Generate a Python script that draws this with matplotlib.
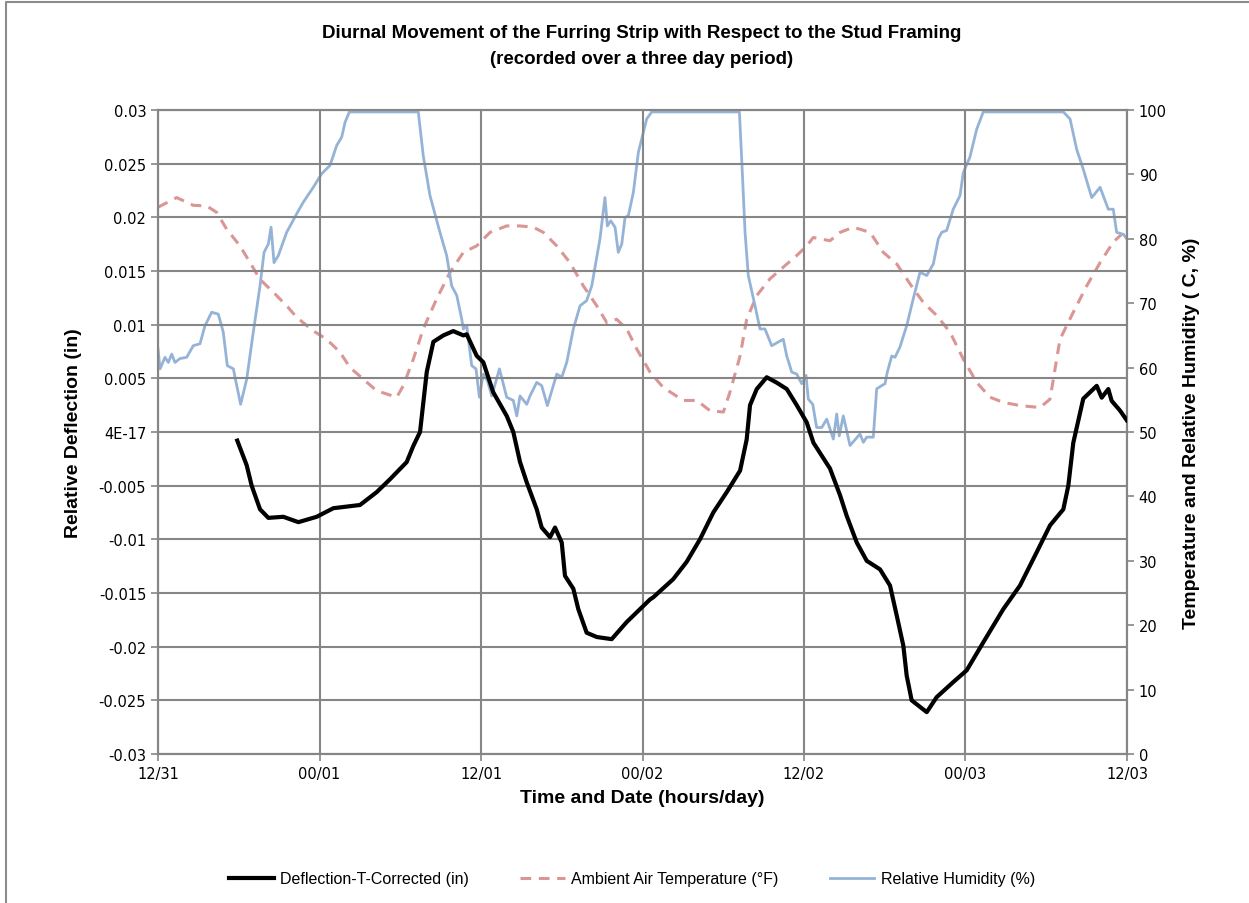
import numpy as np
import matplotlib.pyplot as plt
from matplotlib.lines import Line2D

# hours since 12/31 noon
DEFL_H = [5.89, 6.59, 6.96, 7.58, 8.20, 9.31, 10.43, 11.79, 13.03, 15.01, 16.25, 17.24,
          18.48, 18.97, 19.47, 19.97, 20.46, 21.20, 21.94, 22.69, 22.94, 23.68, 24.17,
          24.91, 25.91, 26.40, 26.90, 27.40, 28.14, 28.51, 29.13, 29.50, 30.00, 30.24,
          30.86, 31.23, 31.85, 32.60, 33.71, 34.83, 36.56, 36.80, 38.29, 39.28, 40.27,
          41.26, 42.26, 43.25, 43.74, 43.99, 44.49, 45.23, 45.97, 46.72, 47.46, 48.20,
          48.70, 49.93, 50.68, 51.17, 51.92, 52.66, 53.65, 54.39, 54.89, 55.38, 55.63,
          56.00, 57.12, 57.86, 59.09, 60.09, 61.32, 62.81, 64.05, 65.29, 66.28, 67.27,
          67.64, 68.01, 68.75, 69.25, 69.75, 70.12, 70.61, 70.86, 71.48, 71.98]
DEFL = [-0.0008, -0.0031, -0.0050, -0.0072, -0.0080, -0.0079, -0.0084, -0.0079, -0.0071,
        -0.0068, -0.0056, -0.0044, -0.0028, -0.0013, 0.0000, 0.0056, 0.0084, 0.0090,
        0.0094, 0.0090, 0.0091, 0.0071, 0.0065, 0.0037, 0.0015, 0.0000, -0.0028, -0.0047,
        -0.0072, -0.0089, -0.0098, -0.0089, -0.0103, -0.0134, -0.0146, -0.0165, -0.0187,
        -0.0191, -0.0193, -0.0177, -0.0156, -0.0154, -0.0137, -0.0121, -0.0100, -0.0075,
        -0.0056, -0.0036, -0.0007, 0.0025, 0.0040, 0.0051, 0.0046, 0.0040, 0.0025, 0.0009,
        -0.0010, -0.0034, -0.0059, -0.0078, -0.0103, -0.0120, -0.0128, -0.0143, -0.0171,
        -0.0199, -0.0227, -0.0250, -0.0261, -0.0247, -0.0233, -0.0222, -0.0196, -0.0165,
        -0.0143, -0.0112, -0.0087, -0.0072, -0.0050, -0.0010, 0.0031, 0.0037, 0.0043,
        0.0032, 0.0040, 0.0029, 0.0020, 0.0011]

TEMP_H = [0.0, 1.39, 2.62, 3.62, 4.36, 5.10, 6.09, 6.84, 7.58, 8.57, 9.56, 10.31, 11.54,
          12.53, 13.52, 14.27, 15.26, 16.25, 17.74, 18.23, 18.97, 19.71, 20.71, 21.70,
          22.69, 23.68, 24.67, 25.91, 26.90, 27.89, 28.63, 29.63, 30.61, 31.60, 32.60,
          33.34, 34.08, 34.83, 35.57, 36.56, 37.55, 39.03, 40.03, 41.02, 42.01, 42.50,
          43.25, 43.74, 44.49, 45.48, 46.46, 47.46, 48.20, 48.69, 49.93, 50.68, 51.67,
          52.91, 53.89, 54.89, 55.88, 56.87, 57.86, 58.85, 59.84, 60.83, 61.82, 62.81,
          64.05, 65.54, 66.28, 67.02, 68.01, 69.01, 70.0, 70.98, 71.60]
TEMP = [84.9, 86.4, 85.2, 85.1, 84.1, 81.5, 78.9, 76.3, 73.7, 71.7, 69.6, 67.8, 65.7,
        64.4, 62.4, 60.0, 58.2, 56.4, 55.4, 57.2, 61.3, 66.0, 70.7, 74.8, 77.9, 78.9,
        81.0, 82.0, 82.0, 81.8, 81.0, 78.9, 76.3, 72.7, 69.6, 67.0, 67.5, 66.0, 62.9,
        59.3, 56.9, 54.9, 54.9, 53.3, 53.1, 56.2, 61.8, 67.5, 71.2, 73.8, 75.6, 77.4,
        78.9, 80.2, 79.7, 81.0, 81.8, 81.0, 77.9, 76.1, 73.0, 70.1, 68.1, 65.5, 61.3,
        57.7, 55.4, 54.6, 54.1, 53.8, 55.1, 64.4, 68.6, 72.7, 76.3, 79.5, 80.7]

RH_H = [0.0, 0.15, 0.52, 0.77, 1.02, 1.26, 1.63, 2.13, 2.62, 3.12, 3.49, 3.99, 4.48, 4.85,
        5.15, 5.60, 5.85, 6.14, 6.59, 7.08, 7.58, 7.88, 8.20, 8.40, 8.62, 8.94, 9.56,
        10.31, 10.80, 11.54, 12.16, 12.78, 13.28, 13.65, 13.90, 14.22, 19.34, 19.71,
        20.21, 20.95, 21.45, 21.82, 22.20, 22.57, 22.69, 22.94, 23.31, 23.63, 23.88,
        24.17, 24.47, 24.80, 25.37, 25.91, 26.40, 26.66, 26.90, 27.40, 27.64, 28.14,
        28.51, 28.93, 29.63, 30.00, 30.37, 30.86, 31.36, 31.85, 32.23, 32.84, 33.21,
        33.39, 33.64, 33.96, 34.20, 34.46, 34.70, 34.95, 35.32, 35.69, 36.31, 36.68,
        43.20, 43.37, 43.62, 43.86, 44.36, 44.73, 45.10, 45.60, 46.46, 46.72, 47.09,
        47.46, 47.83, 48.15, 48.32, 48.65, 48.94, 49.32, 49.69, 50.18, 50.43, 50.62,
        50.92, 51.42, 52.16, 52.41, 52.66, 53.15, 53.40, 53.77, 54.02, 54.19, 54.52,
        54.76, 55.13, 55.63, 56.12, 56.62, 57.12, 57.61, 57.98, 58.23, 58.60, 59.09,
        59.59, 59.84, 60.33, 60.83, 61.32, 67.27, 67.77, 68.26, 68.75, 69.38, 70.0,
        70.61, 70.98, 71.23, 71.73, 71.98]
RH = [62.9, 59.8, 61.6, 60.8, 62.1, 60.8, 61.4, 61.6, 63.4, 63.7, 66.5, 68.6, 68.3, 65.5,
      60.3, 59.8, 57.2, 54.3, 58.2, 65.5, 72.7, 77.9, 79.2, 81.8, 76.3, 77.4, 81.0, 83.9,
      85.7, 88.0, 90.1, 91.4, 94.5, 95.8, 98.1, 99.7, 99.7, 92.9, 86.7, 81.0, 77.4, 72.7,
      71.2, 67.5, 66.0, 66.5, 60.3, 59.8, 55.4, 59.0, 58.0, 55.6, 59.8, 55.4, 54.9, 52.5,
      55.6, 54.3, 55.6, 57.7, 57.2, 54.1, 59.0, 58.5, 60.8, 66.0, 69.6, 70.4, 72.7, 80.0,
      86.4, 82.0, 82.8, 81.8, 77.9, 79.2, 83.3, 83.6, 87.2, 93.4, 98.6, 99.7, 99.7, 92.4,
      81.0, 74.3, 69.6, 66.0, 66.0, 63.4, 64.4, 61.8, 59.3, 59.0, 57.5, 58.8, 55.1, 54.3,
      50.7, 50.7, 52.0, 48.9, 52.8, 49.4, 52.5, 47.9, 49.7, 48.4, 49.2, 49.2, 56.7, 57.2,
      57.5, 59.3, 61.8, 61.6, 63.2, 66.5, 70.7, 74.8, 74.3, 76.1, 80.0, 81.0, 81.3, 84.6,
      86.7, 90.3, 92.7, 97.0, 99.7, 99.7, 98.6, 93.9, 90.8, 86.4, 88.0, 84.6, 84.6, 81.0,
      80.7, 80.0]

X_TICKS = [0, 12, 24, 36, 48, 60, 72]
X_LABELS = ["12/31", "00/01", "12/01", "00/02", "12/02", "00/03", "12/03"]
Y_TICKS = [-0.03, -0.025, -0.02, -0.015, -0.01, -0.005, 0.0, 0.005, 0.01, 0.015, 0.02, 0.025, 0.03]
Y_LABELS = ["-0.03", "-0.025", "-0.02", "-0.015", "-0.01", "-0.005", "4E-17",
            "0.005", "0.01", "0.015", "0.02", "0.025", "0.03"]

GRID = "#868686"
BLACK = "#000000"
RED = "#D99694"
BLUE = "#95B3D7"
LBL_FONT = ["Liberation Sans", "DejaVu Sans"]
DASH = (0, (3.5, 2.5))

fig = plt.figure(figsize=(12.49, 9.04), dpi=100)
ax = fig.add_axes([158 / 1249, 1 - 755 / 904, 969 / 1249, 644 / 904])
ax2 = ax.twinx()

ax.plot(DEFL_H, DEFL, color=BLACK, lw=3.0, zorder=5)
ax2.plot(TEMP_H, TEMP, color=RED, lw=2.2, ls=DASH)
ax2.plot(RH_H, RH, color=BLUE, lw=2.0)

ax.set_zorder(ax2.get_zorder() + 1)
ax.patch.set_visible(False)

ax.set_xlim(0, 72)
ax.set_ylim(-0.03, 0.03)
ax2.set_ylim(0, 100)
ax.set_xticks(X_TICKS)
ax.set_xticklabels(X_LABELS)
ax.set_yticks(Y_TICKS)
ax.set_yticklabels(Y_LABELS)
ax2.set_yticks(np.arange(0, 101, 10))

ax.grid(True, color=GRID, lw=1.5)
for a in (ax, ax2):
    for s in a.spines.values():
        s.set_color(GRID)
        s.set_linewidth(1.5)
    a.tick_params(colors=GRID, labelcolor="black", labelsize=10.5, width=1.2, length=5,
                  direction="out")

ax.set_xlabel("Time and Date (hours/day)", fontsize=14, fontweight="bold",
              family=LBL_FONT, labelpad=6)
ax.set_ylabel("Relative Deflection (in)", fontsize=14, fontweight="bold",
              family=LBL_FONT, labelpad=12)
ax2.set_ylabel("Temperature and Relative Humidity ( C, %)", fontsize=14, fontweight="bold",
               family=LBL_FONT, labelpad=12)

fig.text(642 / 1249, 1 - 33 / 904, "Diurnal Movement of the Furring Strip with Respect to the Stud Framing",
         ha="center", va="center", fontsize=13.5, fontweight="bold", family=LBL_FONT)
fig.text(642 / 1249, 1 - 60 / 904, "(recorded over a three day period)",
         ha="center", va="center", fontsize=13.5, fontweight="bold", family=LBL_FONT)

handles = [Line2D([], [], color=BLACK, lw=3.0),
           Line2D([], [], color=RED, lw=2.2, ls=DASH),
           Line2D([], [], color=BLUE, lw=2.0)]
labels = ["Deflection-T-Corrected (in)", "Ambient Air Temperature (°F)", "Relative Humidity (%)"]
fig.legend(handles, labels, loc="center", bbox_to_anchor=(632 / 1249, 1 - 880 / 904), ncol=3,
           frameon=False, prop={"family": LBL_FONT, "size": 11.5}, columnspacing=3.2,
           handlelength=2.8, handletextpad=0.4)

# outer chart border (top and left visible)
fig.add_artist(Line2D([6 / 1249, 6 / 1249, 1.0], [0.0, 1 - 3 / 904, 1 - 3 / 904],
                      transform=fig.transFigure, color="#8C8C8C", lw=1.5))

fig.savefig("out.png", dpi=100)
